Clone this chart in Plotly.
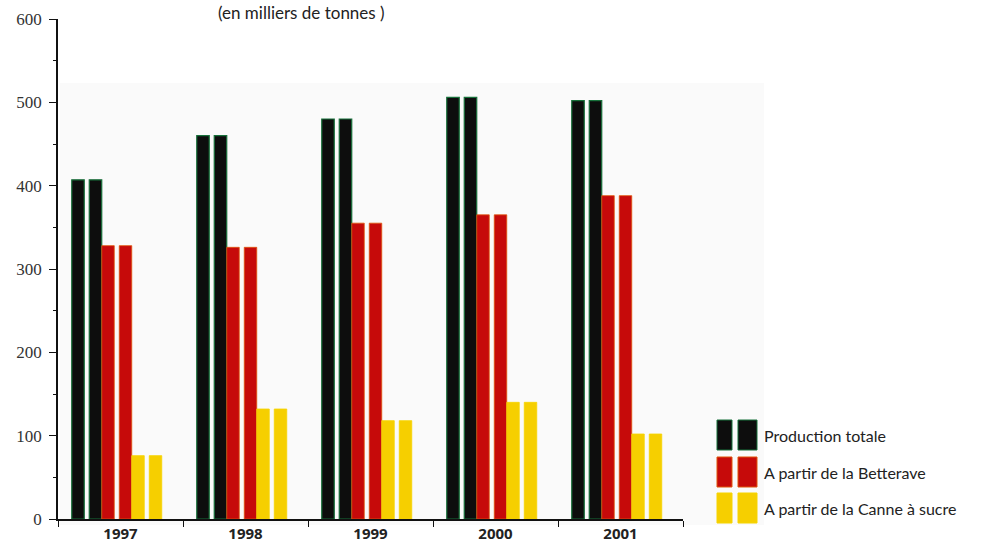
import plotly.graph_objects as go

years = ["1997", "1998", "1999", "2000", "2001"]
production_totale = [407, 460, 480, 506, 502]
betterave = [328, 326, 355, 365, 388]
canne = [76, 132, 118, 140, 102]

series_names = ["Production totale", "A partir de la Betterave", "A partir de la Canne à sucre"]
series_values = [production_totale, betterave, canne]
series_colors = ["#0d0d0d", "#c60a0a", "#f6cf00"]
series_edges = ["#17703a", "#e0540a", "#f6d400"]
y_ticks = [0, 100, 200, 300, 400, 500, 600]

W, H = 987, 549
AX_L, AX_R, AX_T, AX_B = 58, 683, 19, 519  # pixel positions of the axes box
L, R, T, B = AX_L, W - AX_R, AX_T, H - AX_B
pw, ph = AX_R - AX_L, AX_B - AX_T

def px(x):
    return (x - AX_L) / pw

def py(y):
    return (AX_B - y) / ph

fig = go.Figure()

g0 = -0.39
sw = 0.24
sub = 0.1
for i, (name, vals, col, edge) in enumerate(zip(series_names, series_values, series_colors, series_edges)):
    start = g0 + i * sw
    for off in [start, start + sw - sub]:
        fig.add_trace(go.Bar(
            x=years, y=vals, name=name, showlegend=False,
            offset=off, width=sub,
            marker=dict(color=col, line=dict(color=edge, width=1.2 if i == 0 else 0.8)),
        ))

fig.update_layout(
    width=W, height=H,
    margin=dict(l=L, r=R, t=T, b=B, autoexpand=False),
    paper_bgcolor="white",
    plot_bgcolor="rgba(0,0,0,0)",
    barmode="overlay",
    showlegend=False,
    font=dict(family="Lato", color="#222"),
)

fig.update_xaxes(
    type="category", range=[-0.5, 4.5], automargin=False,
    showline=True, linecolor="#111", linewidth=1.5,
    ticks="outside", tickson="boundaries", ticklen=6, tickcolor="#111", tickwidth=1.2,
    tickfont=dict(family="Open Sans", size=15, color="#222", weight=700),
    showgrid=False, zeroline=False,
)
fig.update_yaxes(
    range=[0, 600], tickvals=y_ticks, automargin=False,
    showline=True, linecolor="#111", linewidth=1.5,
    ticks="outside", ticklen=7, tickcolor="#111", tickwidth=1.2,
    minor=dict(dtick=50, ticks="outside", ticklen=3, tickcolor="#111", tickwidth=1.2, showgrid=False),
    tickfont=dict(family="Liberation Serif", size=17, color="#333"),
    ticklabelstandoff=4,
    showgrid=False, zeroline=False,
)

# faint scanned background panel
fig.add_shape(type="rect", xref="paper", yref="paper",
              x0=px(60), x1=px(764), y0=py(525), y1=py(83),
              fillcolor="#fafafa", line=dict(width=0), layer="below")

# subtitle at the very top
fig.add_annotation(text="(en milliers de tonnes )", xref="paper", yref="paper",
                   x=px(301), y=py(0), xanchor="center", yanchor="top",
                   showarrow=False, font=dict(family="Lato", size=17, color="#222"))

# custom legend (two-part swatches)
rows = [435, 472, 508]
for name, col, edge, yc in zip(series_names, series_colors, series_edges, rows):
    for x0, x1 in [(717, 732), (738, 757)]:
        fig.add_shape(type="rect", xref="paper", yref="paper",
                      x0=px(x0), x1=px(x1), y0=py(yc + 15), y1=py(yc - 15),
                      fillcolor=col, line=dict(color=edge, width=1))
    fig.add_annotation(text=name, xref="paper", yref="paper",
                       x=px(762), y=py(yc), xanchor="left", yanchor="middle",
                       showarrow=False, font=dict(family="Lato", size=16, color="#222"))

fig.write_html(
    "out.html",
    config={"displayModeBar": False},
    post_script="document.body.style.margin='0';document.body.style.overflow='hidden';",
)
